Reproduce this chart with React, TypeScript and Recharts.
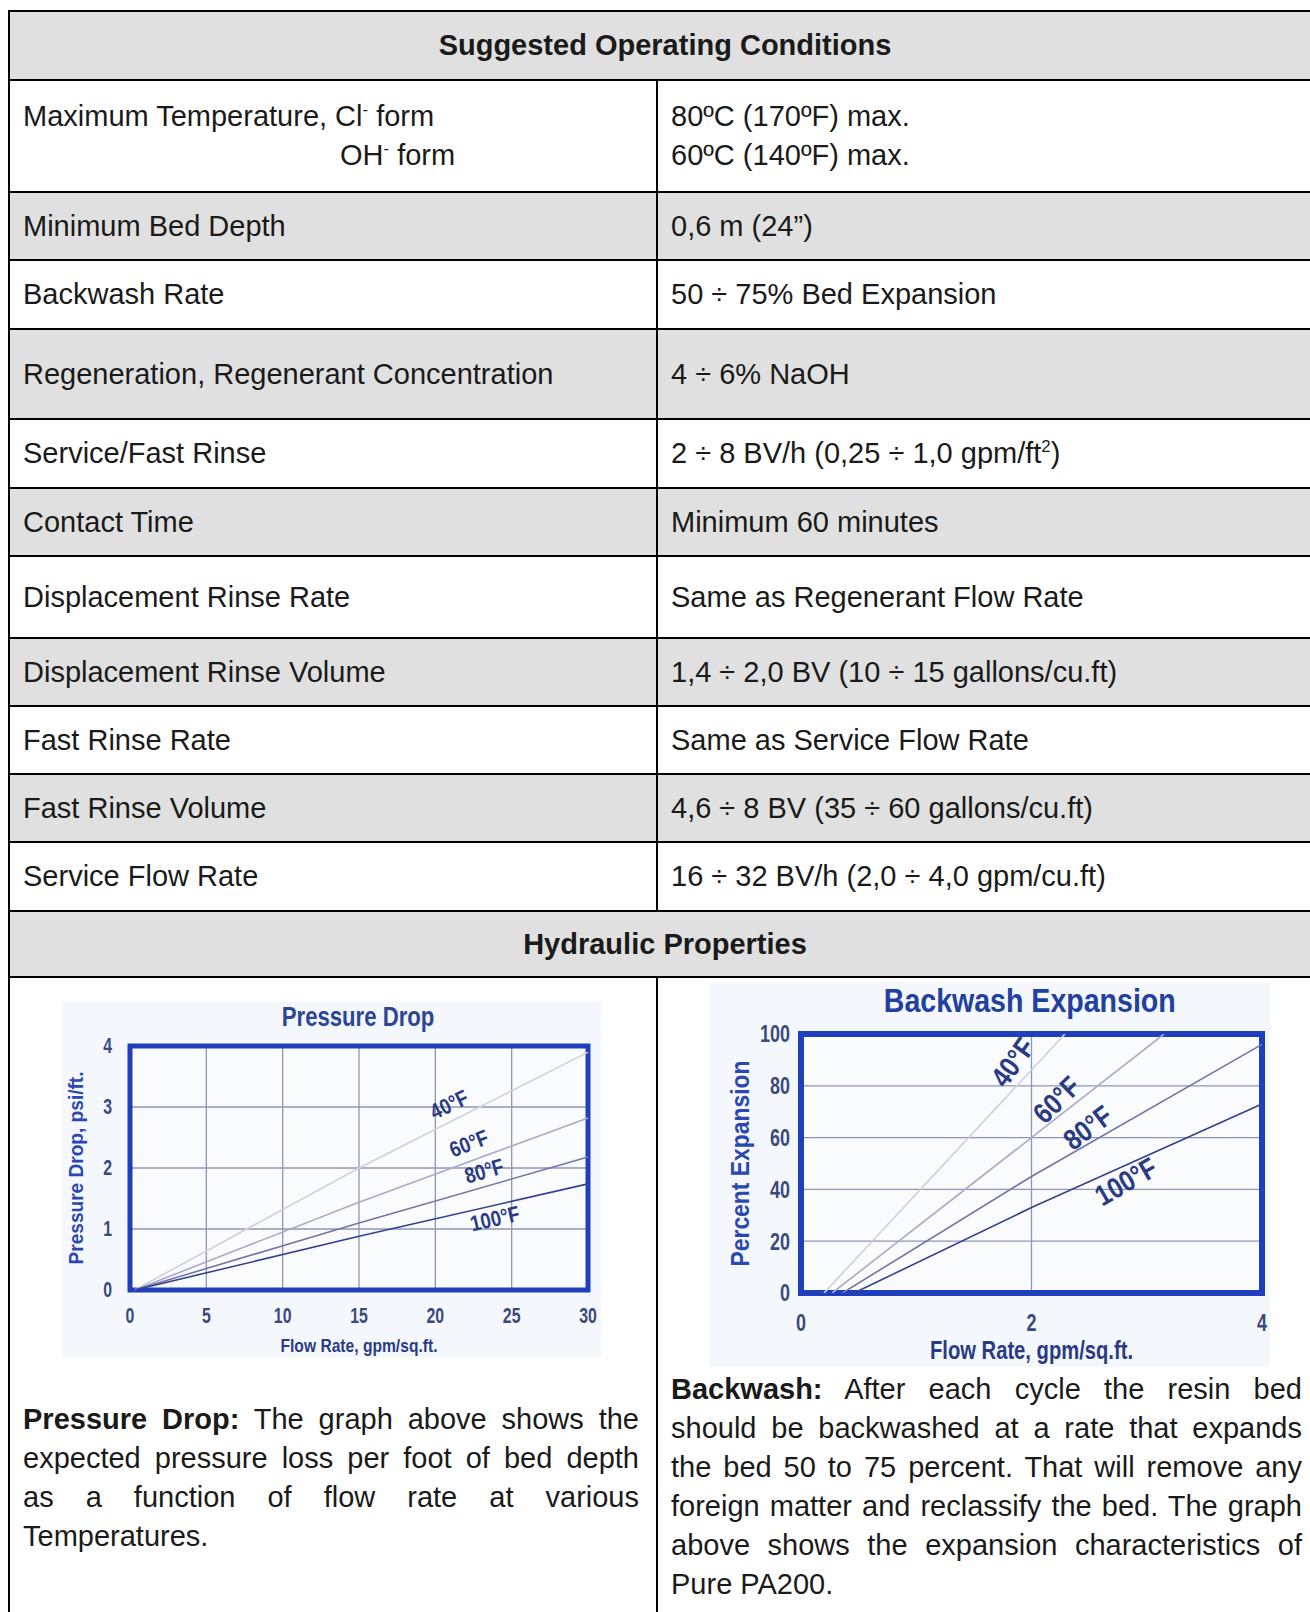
import React from 'react';
import { LineChart, Line, XAxis, YAxis, CartesianGrid, ReferenceArea, ReferenceDot } from 'recharts';

// ---- table content ----
const conditionLabels: React.ReactNode[][] = [
  [<>Maximum Temperature, Cl<sup>-</sup> form</>, <span style={{ paddingLeft: 317 }}>OH<sup>-</sup> form</span>],
  ['Minimum Bed Depth'],
  ['Backwash Rate'],
  ['Regeneration, Regenerant Concentration'],
  ['Service/Fast Rinse'],
  ['Contact Time'],
  ['Displacement Rinse Rate'],
  ['Displacement Rinse Volume'],
  ['Fast Rinse Rate'],
  ['Fast Rinse Volume'],
  ['Service Flow Rate'],
];

const conditionValues: React.ReactNode[][] = [
  ['80ºC (170ºF) max.', '60ºC (140ºF) max.'],
  ['0,6 m (24”)'],
  ['50 ÷ 75% Bed Expansion'],
  ['4 ÷ 6% NaOH'],
  [<>2 ÷ 8 BV/h (0,25 ÷ 1,0 gpm/ft<sup>2</sup>)</>],
  ['Minimum 60 minutes'],
  ['Same as Regenerant Flow Rate'],
  ['1,4 ÷ 2,0 BV (10 ÷ 15 gallons/cu.ft)'],
  ['Same as Service Flow Rate'],
  ['4,6 ÷ 8 BV (35 ÷ 60 gallons/cu.ft)'],
  ['16 ÷ 32 BV/h (2,0 ÷ 4,0 gpm/cu.ft)'],
];

const rowTops = [79, 191, 259, 328, 418, 487, 555, 637, 705, 773, 841, 910];

// ---- pressure drop chart ----
const pressureX = [0, 5, 10, 15, 20, 25, 30];
const pressureY = [0, 1, 2, 3, 4];
const pressure40 = [{ x: 0.3, y: 0 }, { x: 15, y: 2.0 }, { x: 30, y: 3.9 }];
const pressure60 = [{ x: 0.3, y: 0 }, { x: 15, y: 1.44 }, { x: 30, y: 2.82 }];
const pressure80 = [{ x: 0.3, y: 0 }, { x: 15, y: 1.1 }, { x: 30, y: 2.18 }];
const pressure100 = [{ x: 0.3, y: 0 }, { x: 15, y: 0.88 }, { x: 30, y: 1.74 }];

// ---- backwash chart ----
const backwashX = [0, 2, 4];
const backwashY = [0, 20, 40, 60, 80, 100];
const backwash40 = [{ x: 0.2, y: 0 }, { x: 2.29, y: 100 }];
const backwash60 = [{ x: 0.27, y: 0 }, { x: 2, y: 60 }, { x: 3.15, y: 100 }];
const backwash80 = [{ x: 0.36, y: 0 }, { x: 2, y: 45 }, { x: 4, y: 96 }];
const backwash100 = [{ x: 0.46, y: 0 }, { x: 2, y: 33 }, { x: 4, y: 73 }];

const tempNames = ['40°F', '60°F', '80°F', '100°F'];
const lineColors = ['#cfcfe0', '#a9a9c9', '#7474a8', '#34418e'];

const TEXT_FONT = '"Liberation Sans", Arial, sans-serif';
const CHART_FONT = '"Liberation Sans", Arial, sans-serif';
const NAVY = '#2a3b86';
const TICK = '#3b4a7d';
const FRAME = '#1f3fbf';

// bold text squeezed sideways, to look like the condensed face of the original
const SText = (p: any) => (
  <text
    transform={`translate(${p.x},${p.y}) rotate(${p.rot || 0}) scale(${p.sx || 1},1)`}
    x={0}
    y={0}
    textAnchor={p.anchor || 'middle'}
    dominantBaseline="central"
    fontFamily={CHART_FONT}
    fontWeight="bold"
    fontSize={p.size}
    fill={p.color}
  >
    {p.children}
  </text>
);

const XTick = (props: any) => (
  <SText x={props.x} y={props.y} size={props.tsize} sx={props.tsx} color={TICK}>
    {props.payload.value}
  </SText>
);

const YTick = (props: any) => (
  <SText x={props.x} y={props.y} size={props.tsize} sx={props.tsx} color={TICK} anchor="end">
    {props.payload.value}
  </SText>
);

const TempLabel = (props: any) => {
  const { viewBox, label, rot, tsize, tsx } = props;
  const cx = viewBox.x + viewBox.width / 2;
  const cy = viewBox.y + viewBox.height / 2;
  return (
    <SText x={cx} y={cy} rot={rot} size={tsize} sx={tsx} color={NAVY}>
      {label}
    </SText>
  );
};

const YTitle = (props: any) => {
  const { viewBox, title, dx, tsize, len } = props;
  const x = viewBox.x + dx;
  const y = viewBox.y + viewBox.height / 2;
  return (
    <text
      x={x}
      y={y}
      textAnchor="middle"
      dominantBaseline="central"
      transform={`rotate(-90, ${x}, ${y})`}
      fill="#2c48b0"
      fontFamily={CHART_FONT}
      fontWeight="bold"
      fontSize={tsize}
      textLength={len}
      lengthAdjust="spacingAndGlyphs"
    >
      {title}
    </text>
  );
};

const XTitle = (props: any) => {
  const { viewBox, title, dy, tsize, len } = props;
  const x = viewBox.x + viewBox.width / 2;
  return (
    <text
      x={x}
      y={viewBox.y + dy}
      textAnchor="middle"
      dominantBaseline="central"
      fill={NAVY}
      fontFamily={CHART_FONT}
      fontWeight="bold"
      fontSize={tsize}
      textLength={len}
      lengthAdjust="spacingAndGlyphs"
    >
      {title}
    </text>
  );
};

const PressureChart = () => {
  const series = [pressure40, pressure60, pressure80, pressure100];
  const labelAt = [
    { x: 20.9, y: 3.04, rot: -26 },
    { x: 22.2, y: 2.4, rot: -21 },
    { x: 23.2, y: 1.95, rot: -16 },
    { x: 23.9, y: 1.17, rot: -13 },
  ];
  return (
    <div style={{ position: 'absolute', left: 62, top: 1002, width: 539, height: 355, background: '#f4f7fb' }}>
      <div
        style={{
          position: 'absolute', left: 0, top: 0, width: 592, textAlign: 'center',
          fontFamily: CHART_FONT, fontWeight: 'bold', fontSize: 27, color: '#2b4597',
        }}
      >
        <span style={{ display: 'inline-block', transform: 'scaleX(0.82)' }}>Pressure Drop</span>
      </div>
      <LineChart width={539} height={355} margin={{ top: 44, right: 13, bottom: 7, left: 0 }}>
        <ReferenceArea x1={0} x2={30} y1={0} y2={4} fill="#ffffff" stroke="none" />
        <CartesianGrid stroke="#1c2b6b" strokeWidth={1.3} />
        <XAxis
          type="number"
          dataKey="x"
          domain={[0, 30]}
          ticks={pressureX}
          height={60}
          axisLine={false}
          tickLine={false}
          tickSize={0}
          tickMargin={26}
          tick={<XTick tsize={22} tsx={0.72} />}
          label={<XTitle title="Flow Rate, gpm/sq.ft." dy={55} tsize={19} len={157} />}
        />
        <YAxis
          type="number"
          domain={[0, 4]}
          ticks={pressureY}
          width={68}
          axisLine={false}
          tickLine={false}
          tickSize={0}
          tickMargin={18}
          tick={<YTick tsize={22} tsx={0.72} />}
          label={<YTitle title="Pressure Drop, psi/ft." dx={13} tsize={21} len={193} />}
        />
        {series.map((d, i) => (
          <Line
            key={tempNames[i]}
            data={d}
            dataKey="y"
            stroke={lineColors[i]}
            strokeWidth={1.6}
            dot={false}
            isAnimationActive={false}
          />
        ))}
        <ReferenceArea x1={0} x2={30} y1={0} y2={4} fill="none" stroke={FRAME} strokeWidth={5} />
        {labelAt.map((l, i) => (
          <ReferenceDot
            key={'pl' + i}
            x={l.x}
            y={l.y}
            r={1}
            fill="none"
            stroke="none"
            label={<TempLabel label={tempNames[i]} rot={l.rot} tsize={22} tsx={0.85} />}
          />
        ))}
      </LineChart>
    </div>
  );
};

const BackwashChart = () => {
  const series = [backwash40, backwash60, backwash80, backwash100];
  const labelAt = [
    { x: 1.84, y: 89, rot: -54 },
    { x: 2.22, y: 74.5, rot: -44 },
    { x: 2.49, y: 63.7, rot: -37 },
    { x: 2.82, y: 42.9, rot: -30 },
  ];
  return (
    <div style={{ position: 'absolute', left: 709, top: 982, width: 561, height: 385, background: '#f4f7fb' }}>
      <div
        style={{
          position: 'absolute', left: 0, top: 0, width: 642, textAlign: 'center',
          fontFamily: CHART_FONT, fontWeight: 'bold', fontSize: 33, color: '#2140a0',
        }}
      >
        <span style={{ display: 'inline-block', transform: 'scaleX(0.865)' }}>Backwash Expansion</span>
      </div>
      <LineChart width={561} height={385} margin={{ top: 52, right: 8, bottom: 4, left: 0 }}>
        <ReferenceArea x1={0} x2={4} y1={0} y2={100} fill="#ffffff" stroke="none" />
        <CartesianGrid stroke="#1c2b6b" strokeWidth={1.3} />
        <XAxis
          type="number"
          dataKey="x"
          domain={[0, 4]}
          ticks={backwashX}
          height={70}
          axisLine={false}
          tickLine={false}
          tickSize={0}
          tickMargin={30}
          tick={<XTick tsize={23} tsx={0.78} />}
          label={<XTitle title="Flow Rate, gpm/sq.ft." dy={57} tsize={25} len={203} />}
        />
        <YAxis
          type="number"
          domain={[0, 100]}
          allowDataOverflow
          ticks={backwashY}
          width={92}
          axisLine={false}
          tickLine={false}
          tickSize={0}
          tickMargin={11}
          tick={<YTick tsize={23} tsx={0.78} />}
          label={<YTitle title="Percent Expansion" dx={31} tsize={26} len={206} />}
        />
        {series.map((d, i) => (
          <Line
            key={tempNames[i]}
            data={d}
            dataKey="y"
            stroke={lineColors[i]}
            strokeWidth={1.6}
            dot={false}
            isAnimationActive={false}
          />
        ))}
        <ReferenceArea x1={0} x2={4} y1={0} y2={100} fill="none" stroke={FRAME} strokeWidth={6} />
        {labelAt.map((l, i) => (
          <ReferenceDot
            key={'bl' + i}
            x={l.x}
            y={l.y}
            r={1}
            fill="none"
            stroke="none"
            label={<TempLabel label={tempNames[i]} rot={l.rot} tsize={29} tsx={0.85} />}
          />
        ))}
      </LineChart>
    </div>
  );
};

const line = '2px solid #000';

const App = () => {
  return (
    <div
      style={{
        position: 'relative', width: 1310, height: 1612, overflow: 'hidden', background: '#fff',
        fontFamily: TEXT_FONT, fontSize: 29, color: '#1a1a1a',
      }}
    >
      <style>{'body{margin:0} sup{font-size:0.58em;line-height:0}'}</style>
      {/* table frame */}
      <div style={{ position: 'absolute', left: 8, top: 10, width: 1320, height: 1612, borderLeft: line, borderTop: line }} />
      <div
        style={{
          position: 'absolute', left: 10, top: 12, width: 1310, height: 67, background: '#e0e0e0',
          display: 'flex', alignItems: 'center', justifyContent: 'center', fontWeight: 'bold',
        }}
      >
        Suggested Operating Conditions
      </div>
      {conditionLabels.map((lab, i) => {
        const top = rowTops[i];
        const h = rowTops[i + 1] - top;
        const bg = i % 2 === 1 ? '#e0e0e0' : '#ffffff';
        const cell: React.CSSProperties = {
          position: 'absolute', top: 0, height: h - 2, boxSizing: 'border-box',
          display: 'flex', flexDirection: 'column', justifyContent: 'center', paddingLeft: 13, lineHeight: '39px',
        };
        return (
          <div key={i} style={{ position: 'absolute', left: 10, top, width: 1310, height: h, borderTop: line, background: bg, boxSizing: 'border-box' }}>
            <div style={{ ...cell, left: 0, width: 648, borderRight: line }}>
              {lab.map((t, j) => <div key={j} style={{ whiteSpace: 'nowrap' }}>{t}</div>)}
            </div>
            <div style={{ ...cell, left: 648, width: 650 }}>
              {conditionValues[i].map((t, j) => <div key={j} style={{ whiteSpace: 'nowrap' }}>{t}</div>)}
            </div>
          </div>
        );
      })}
      <div
        style={{
          position: 'absolute', left: 10, top: 910, width: 1310, height: 68, borderTop: line, borderBottom: line, background: '#e0e0e0',
          display: 'flex', alignItems: 'center', justifyContent: 'center', fontWeight: 'bold',
          boxSizing: 'border-box',
        }}
      >
        Hydraulic Properties
      </div>
      <div style={{ position: 'absolute', left: 656, top: 978, width: 2, height: 700, background: '#000' }} />

      <PressureChart />
      <BackwashChart />

      <div style={{ position: 'absolute', left: 23, top: 1400, width: 616, lineHeight: '39px', textAlign: 'justify', wordSpacing: 3 }}>
        <b>Pressure Drop:</b><span>{' The graph above shows the expected pressure loss per foot of bed depth as a function of flow rate at various Temperatures.'}</span>
      </div>
      <div style={{ position: 'absolute', left: 671, top: 1370, width: 631, lineHeight: '39px', textAlign: 'justify' }}>
        <b>Backwash:</b><span>{' After each cycle the resin bed should be backwashed at a rate that expands the bed 50 to 75 percent. That will remove any foreign matter and reclassify the bed. The graph above shows the expansion characteristics of Pure PA200.'}</span>
      </div>
    </div>
  );
};

export default App;
